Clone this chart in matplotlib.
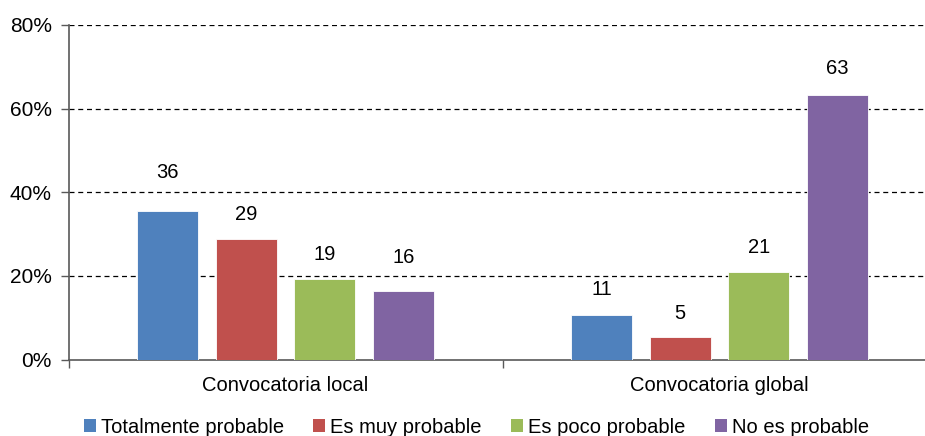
import matplotlib
matplotlib.use("Agg")
import matplotlib.pyplot as plt
from matplotlib.patches import Patch
import numpy as np

plt.rcParams['font.family'] = ['Liberation Sans', 'DejaVu Sans']

categories = ["Convocatoria local", "Convocatoria global"]
series_names = ["Totalmente probable", "Es muy probable", "Es poco probable", "No es probable"]
totalmente = [35.6, 10.6]
muy = [28.9, 5.3]
poco = [19.2, 21.0]
no_es = [16.3, 63.3]
series_values = [totalmente, muy, poco, no_es]
y_ticks = [0, 20, 40, 60, 80]
y_tick_labels = ["0%", "20%", "40%", "60%", "80%"]

colors = ["#4F81BD", "#C0504D", "#9BBB59", "#8064A2"]
# label gap above bar, in pixels (per series, per category)
label_gaps = [[29, 16], [15, 14], [15, 15], [24, 17]]

W, H = 925, 436
fig = plt.figure(figsize=(W / 100, H / 100), dpi=100)
left_px, right_px = 68.5, 936.5
top_px, bot_px = 25, 359.5
ax = fig.add_axes([left_px / W, (H - bot_px) / H, (right_px - left_px) / W, (bot_px - top_px) / H])

x = np.arange(len(categories))
step = 0.181
width = 0.1406
offsets = (np.arange(len(series_names)) - 1.5) * step

for i, (name, vals) in enumerate(zip(series_names, series_values)):
    bars = ax.bar(x + offsets[i], vals, width, color=colors[i], edgecolor='white', linewidth=0.6, zorder=3, label=name)
    for j, (b, v) in enumerate(zip(bars, vals)):
        ax.annotate(f"{v:.0f}", (b.get_x() + b.get_width() / 2, v), xytext=(0, label_gaps[i][j] * 0.72),
                    textcoords='offset points', ha='center', va='bottom', fontsize=14.5, color='black')

ax.set_xlim(-0.5, 1.5)
ax.set_ylim(0, 80)
ax.set_yticks(y_ticks)
ax.set_yticklabels(y_tick_labels, fontsize=15)
for yv in y_ticks[1:]:
    ax.axhline(yv, color='black', linestyle=(0, (4, 3)), linewidth=0.9, zorder=1)

ax.set_xticks([-0.5, 0.5, 1.5])
ax.set_xticklabels([])
ax.set_xticks(x, minor=True)
ax.set_xticklabels(categories, minor=True, fontsize=14.5)
ax.tick_params(axis='x', which='minor', length=0, pad=12)
ax.tick_params(axis='x', which='major', length=6, direction='out', color='#595959', width=1)
ax.tick_params(axis='y', length=6, direction='out', color='#595959', width=1, pad=6)

for s in ['top', 'right']:
    ax.spines[s].set_visible(False)
ax.spines['left'].set_color('#595959')
ax.spines['bottom'].set_color('#595959')
ax.spines['left'].set_linewidth(1.2)
ax.spines['bottom'].set_linewidth(1.2)

handles = [Patch(facecolor=c, edgecolor='none') for c in colors]
fig.legend(handles, series_names, loc='center', bbox_to_anchor=(476.5 / W, (H - 427) / H), ncol=4,
           frameon=False, fontsize=14.5, handlelength=0.6, handleheight=0.6, handletextpad=0.25,
           columnspacing=1.45, borderaxespad=0)

fig.savefig("out.png", dpi=100)
